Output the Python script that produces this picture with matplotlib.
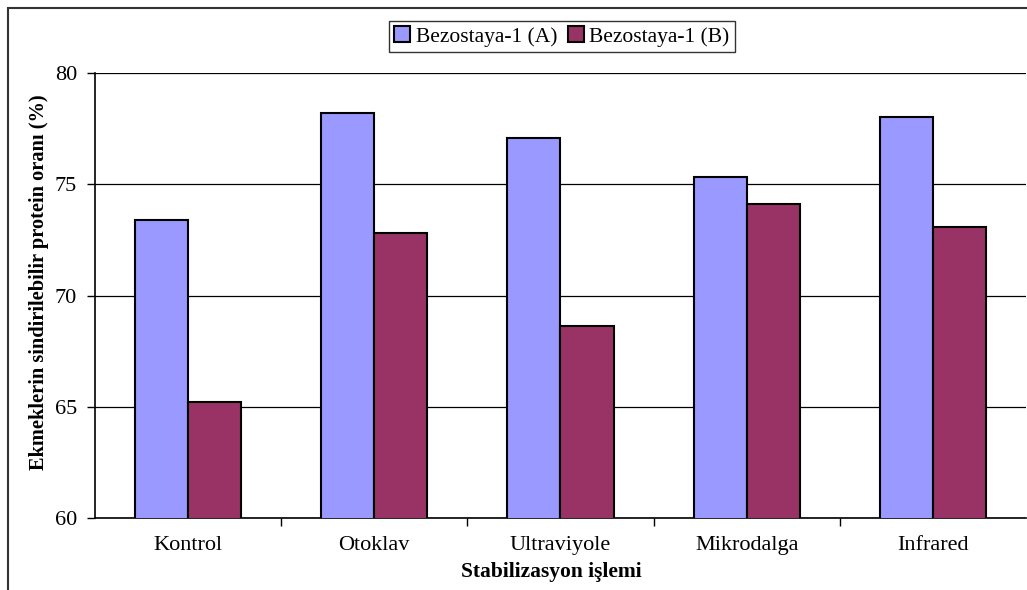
import matplotlib.pyplot as plt
import matplotlib.patches as mpatches
import numpy as np

plt.rcParams['font.family'] = ['Liberation Serif', 'DejaVu Serif']

# Veriler
kategoriler = ['Kontrol', 'Otoklav', 'Ultraviyole', 'Mikrodalga', 'Infrared']
bezostaya_a = [73.4, 78.2, 77.1, 75.35, 78.05]
bezostaya_b = [65.2, 72.8, 68.65, 74.1, 73.1]
seri_adlari = ['Bezostaya-1 (A)', 'Bezostaya-1 (B)']
renkler = ['#9999FF', '#993366']

fig = plt.figure(figsize=(10.27, 5.9), dpi=100)
ax = fig.add_axes([0.0925, 0.122, 0.9065, 0.754])

x = np.arange(len(kategoriler))
w = 0.285
ax.bar(x - w / 2, bezostaya_a, w, color=renkler[0], edgecolor='black', linewidth=1.5,
       label=seri_adlari[0], zorder=3)
ax.bar(x + w / 2, bezostaya_b, w, color=renkler[1], edgecolor='black', linewidth=1.5,
       label=seri_adlari[1], zorder=3)

ax.set_ylim(60, 80)
ax.set_yticks([60, 65, 70, 75, 80])
ax.set_xlim(-0.5, len(kategoriler) - 0.5)
ax.set_xticks(x)
ax.set_xticklabels(kategoriler)
ax.set_xticks(np.arange(0.5, len(kategoriler) - 0.5, 1), minor=True)
ax.tick_params(axis='x', which='major', length=0, pad=13, labelsize=16)
ax.tick_params(axis='x', which='minor', length=6, direction='out', width=1)
ax.tick_params(axis='y', length=6, direction='out', width=1, labelsize=16, pad=7)
ax.yaxis.grid(True, color='black', linewidth=0.9, zorder=0)

for s in ['top', 'right']:
    ax.spines[s].set_visible(False)
for s in ['left', 'bottom']:
    ax.spines[s].set_linewidth(1.2)

ax.set_ylabel('Ekmeklerin sindirilebilir protein oranı (%)', fontsize=14.7,
              fontweight='bold')
ax.yaxis.set_label_coords(-0.049, 0.53)
ax.set_xlabel('Stabilizasyon işlemi', fontsize=15.5, fontweight='bold')
ax.xaxis.set_label_coords(0.49, -0.099)

leg = fig.legend(loc='center', bbox_to_anchor=(0.547, 0.938), ncol=2, fontsize=15.5,
                 frameon=True, fancybox=False, handlelength=0.75, handleheight=0.75,
                 handletextpad=0.25, columnspacing=0.5, borderpad=0.25)
leg.get_frame().set_edgecolor('black')
leg.get_frame().set_linewidth(1.0)

# dış çerçeve
fig.patches.append(mpatches.Rectangle((8 / 1027, -0.1), 1.2, 1.1 - 8 / 590,
                                      transform=fig.transFigure, fill=False,
                                      edgecolor='#333333', linewidth=1.5))

fig.savefig('out.png', dpi=100)
